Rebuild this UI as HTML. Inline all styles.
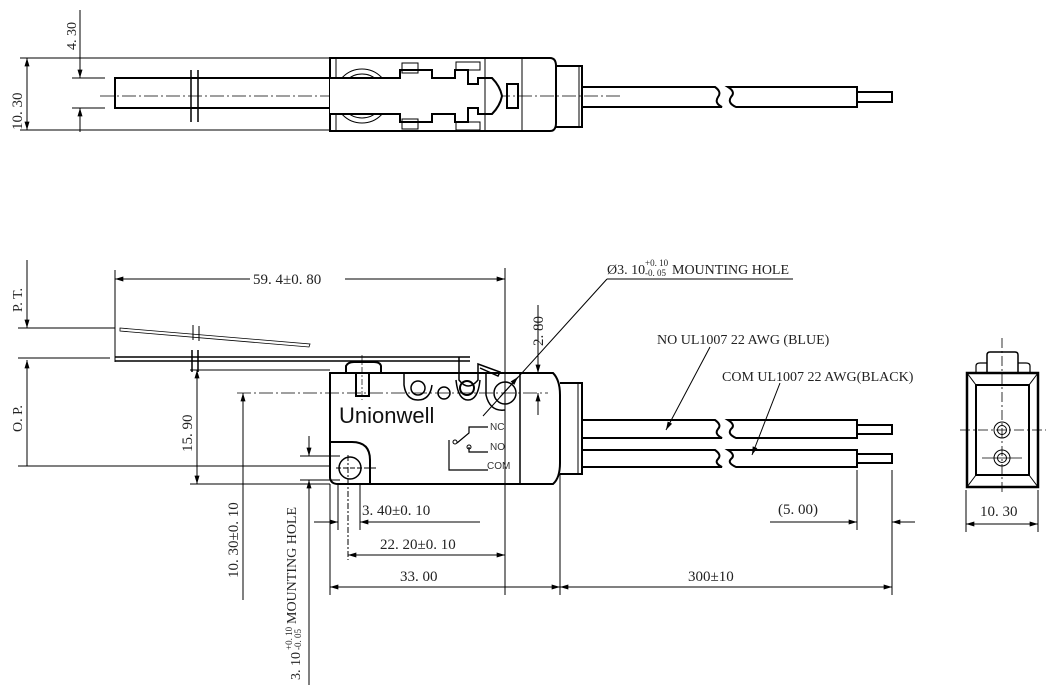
<!DOCTYPE html>
<html><head><meta charset="utf-8"><style>
html,body{margin:0;padding:0;background:#fff}
svg{display:block}
text{font-family:"Liberation Serif","Noto Serif CJK SC",serif;font-size:14px;fill:#222}
</style></head><body>
<svg width="1052" height="685" viewBox="0 0 1052 685" xmlns="http://www.w3.org/2000/svg">
<defs>
<marker id="a" viewBox="0 0 10 6" refX="10" refY="3" markerWidth="14" markerHeight="5" orient="auto-start-reverse" markerUnits="userSpaceOnUse"><path d="M0,0 L10,3 L0,6z" fill="#000"/></marker>
</defs>
<g stroke="#000" fill="none" stroke-width="1">
<line x1="20" y1="58" x2="330" y2="58"/><line x1="20" y1="130" x2="330" y2="130"/>
<line x1="27" y1="58" x2="27" y2="130" marker-start="url(#a)" marker-end="url(#a)"/>
<line x1="80" y1="10" x2="80" y2="78" marker-end="url(#a)"/>
<line x1="80" y1="108" x2="80" y2="132" marker-start="url(#a)"/>
<line x1="72" y1="78" x2="105" y2="78"/><line x1="72" y1="108" x2="105" y2="108"/>
<path d="M330,78 H115 V108 H330" stroke-width="2"/>
<line x1="191" y1="70" x2="191" y2="122" stroke-width="1.5"/><line x1="198" y1="70" x2="198" y2="122" stroke-width="1.5"/>
<line x1="100" y1="96" x2="620" y2="96" stroke-dasharray="14,3,2,3" stroke-width="0.8"/>
<path d="M330,58 H550 Q556,58 556,66 V123 Q556,131 550,131 H330 Z" stroke-width="2"/>
<line x1="336" y1="58" x2="336" y2="131"/>
<circle cx="362" cy="96" r="27"/><circle cx="362" cy="96" r="22"/>
<path d="M330,78 H400 V70 H432 V78 H455 V70 H468 V84 H478 V78 H492 Q500,86 502,96 Q500,106 492,114 H478 V108 H468 V122 H455 V114 H432 V122 H400 V114 H330" stroke-width="2" fill="#fff"/>
<rect x="402" y="63" width="16" height="10"/><rect x="402" y="119" width="16" height="10"/>
<rect x="456" y="62" width="24" height="8"/><rect x="456" y="122" width="24" height="8"/>
<line x1="485" y1="58" x2="485" y2="131"/><line x1="522" y1="58" x2="522" y2="131"/>
<rect x="507" y="84" width="11" height="24" stroke-width="2"/>
<path d="M556,66 H582 V127 H556" stroke-width="2"/><line x1="579" y1="66" x2="579" y2="127"/>
<path d="M582,87 H715 Q722,92 718,97 Q714,103 722,107 H582" stroke-width="2"/>
<path d="M857,87 H728 Q736,92 731,97 Q727,103 736,107 H857 Z" stroke-width="2"/>
<rect x="857" y="92" width="35" height="10" stroke-width="2"/>

<line x1="27" y1="260" x2="27" y2="328" marker-end="url(#a)"/>
<line x1="27" y1="360" x2="27" y2="466" marker-start="url(#a)"/>
<line x1="18" y1="328" x2="115" y2="328"/><line x1="18" y1="358" x2="110" y2="358"/>
<line x1="18" y1="466" x2="330" y2="466"/>
<line x1="115" y1="270" x2="115" y2="362"/><line x1="505" y1="268" x2="505" y2="595"/>
<line x1="115" y1="279" x2="250" y2="279" marker-start="url(#a)"/>
<line x1="345" y1="279" x2="505" y2="279" marker-end="url(#a)"/>
<path d="M115,357 H470 M115,361 H470" stroke-width="1.5"/>
<path d="M120,328 L310,344 L309,347 L120,331 Z" stroke-width="0.8"/>
<line x1="193" y1="325" x2="193" y2="340"/><line x1="199" y1="326" x2="199" y2="341"/>
<line x1="192" y1="350" x2="192" y2="372" stroke-width="1.5"/><line x1="198" y1="350" x2="198" y2="372" stroke-width="1.5"/>
<path d="M459,357 V380 Q468,392 478,380 V364 L500,372 L498,376 L480,368" stroke-width="1.5"/>
<path d="M346,373 V366 Q348,362 354,362 H374 Q380,362 381,366 V373" stroke-width="2"/>
<path d="M356,373 V396 H369 V373" stroke-width="2"/>
<line x1="362" y1="355" x2="362" y2="400" stroke-dasharray="6,2,2,2" stroke-width="0.7"/>
<path d="M330,373 H553 Q560,380 560,395 V463 Q560,478 553,484 H370 V460 Q370,442 352,442 H330 Z M330,442 V478 Q331,484 338,484 H370" stroke-width="2"/>
<line x1="520" y1="373" x2="520" y2="484" stroke-width="1.5"/>
<path d="M560,383 H582 V474 H560" stroke-width="2"/><line x1="578" y1="383" x2="578" y2="474"/>
<circle cx="350" cy="468" r="11" stroke-width="1.5"/>
<line x1="336" y1="468" x2="378" y2="468" stroke-dasharray="5,2"/>
<line x1="348" y1="455" x2="348" y2="560" stroke-dasharray="6,2,2,2"/>
<path d="M404,373 V385 Q406,400 418,400 Q430,400 432,385" stroke-width="1.5"/>
<circle cx="418" cy="388" r="7" stroke-width="1.5"/>
<circle cx="444" cy="393" r="6" stroke-width="1.5"/>
<path d="M456,380 Q458,400 468,400 Q478,400 480,380" stroke-width="1.5"/>
<circle cx="467" cy="388" r="7" stroke-width="2"/>
<path d="M486,373 V395 Q490,412 505,410" stroke-width="1.5"/>
<circle cx="505" cy="393" r="11" stroke-width="1.5"/>
<line x1="237" y1="393" x2="548" y2="393" stroke-dasharray="14,3,2,3" stroke-width="0.8"/>
<path d="M457,443 L469,433 L469,427 H488 M469,447 V452 H488 M449,440 V470 H488" stroke-width="1.2"/>
<circle cx="455" cy="442" r="2"/><circle cx="469" cy="447" r="2"/>
<line x1="190" y1="370" x2="330" y2="370"/><line x1="190" y1="484" x2="330" y2="484"/>
<line x1="197" y1="370" x2="197" y2="484" marker-start="url(#a)" marker-end="url(#a)"/>
<line x1="243" y1="393" x2="243" y2="600" marker-start="url(#a)"/>
<line x1="538" y1="305" x2="538" y2="373" marker-end="url(#a)"/>
<line x1="538" y1="393" x2="538" y2="415" marker-start="url(#a)"/>
<line x1="300" y1="456" x2="340" y2="456"/><line x1="300" y1="480" x2="340" y2="480"/>
<line x1="309" y1="436" x2="309" y2="456" marker-end="url(#a)"/>
<line x1="309" y1="480" x2="309" y2="685" marker-start="url(#a)"/>
<line x1="330" y1="484" x2="330" y2="595"/><line x1="338" y1="484" x2="338" y2="530"/>
<line x1="360" y1="484" x2="360" y2="530"/><line x1="560" y1="474" x2="560" y2="595"/>
<line x1="314" y1="522" x2="338" y2="522" marker-end="url(#a)"/>
<line x1="360" y1="522" x2="480" y2="522" marker-start="url(#a)"/>
<line x1="348" y1="555" x2="505" y2="555" marker-start="url(#a)" marker-end="url(#a)"/>
<line x1="330" y1="587" x2="560" y2="587" marker-start="url(#a)" marker-end="url(#a)"/>
<line x1="560" y1="587" x2="892" y2="587" marker-start="url(#a)" marker-end="url(#a)"/>
<path d="M582,420 H715 Q722,425 718,429 Q714,434 722,438 H582" stroke-width="2"/>
<path d="M857,420 H728 Q736,425 731,429 Q727,434 736,438 H857 Z" stroke-width="2"/>
<rect x="857" y="425" width="35" height="9" stroke-width="2"/>
<path d="M582,450 H715 Q722,455 718,459 Q714,463 722,467 H582" stroke-width="2"/>
<path d="M857,450 H728 Q736,455 731,459 Q727,463 736,467 H857 Z" stroke-width="2"/>
<rect x="857" y="454" width="35" height="9" stroke-width="2"/>
<line x1="857" y1="470" x2="857" y2="530"/><line x1="892" y1="470" x2="892" y2="595"/>
<line x1="770" y1="522" x2="857" y2="522" marker-end="url(#a)"/>
<line x1="892" y1="522" x2="915" y2="522" marker-start="url(#a)"/>
<line x1="607" y1="279" x2="793" y2="279"/>
<line x1="607" y1="279" x2="483" y2="416"/>
<line x1="500" y1="397" x2="518" y2="377" marker-end="url(#a)"/>
<line x1="710" y1="347" x2="666" y2="430" marker-end="url(#a)"/>
<line x1="780" y1="383" x2="752" y2="455" marker-end="url(#a)"/>

<path d="M987,373 V355 Q987,352 990,352 H1015 Q1018,352 1018,355 V373" stroke-width="1.5"/>
<path d="M976,373 V366 Q976,363 980,363 H987 M1018,363 H1026 Q1030,363 1030,366 V373" stroke-width="1.2"/>
<rect x="967" y="373" width="71" height="114" stroke-width="2.5"/>
<rect x="976" y="385" width="53" height="90" stroke-width="2"/>
<line x1="967" y1="373" x2="976" y2="385"/><line x1="1038" y1="373" x2="1029" y2="385"/>
<line x1="967" y1="487" x2="976" y2="475"/><line x1="1038" y1="487" x2="1029" y2="475"/>
<circle cx="1002" cy="430" r="8"/><circle cx="1002" cy="430" r="4.5"/>
<circle cx="1002" cy="458" r="8"/><circle cx="1002" cy="458" r="4.5"/>
<line x1="1002" y1="338" x2="1002" y2="492" stroke-dasharray="10,3,2,3" stroke-width="0.8"/>
<line x1="960" y1="430" x2="1046" y2="430" stroke-dasharray="10,3,2,3" stroke-width="0.8"/>
<line x1="982" y1="458" x2="1022" y2="458" stroke-width="0.8"/>
<line x1="966" y1="490" x2="966" y2="532"/><line x1="1038" y1="490" x2="1038" y2="532"/>
<line x1="966" y1="524" x2="1038" y2="524" marker-start="url(#a)" marker-end="url(#a)"/>
</g>

<g>
<text transform="translate(76,50) rotate(-90)">4. 30</text>
<text transform="translate(22,130) rotate(-90)" style="font-size:15px">10. 30</text>
<text transform="translate(22,312) rotate(-90)">P. T.</text>
<text transform="translate(22,432) rotate(-90)">O. P.</text>
<text x="253" y="284" style="font-size:15px">59. 4±0. 80</text>
<text transform="translate(192,452) rotate(-90)" style="font-size:15px">15. 90</text>
<text transform="translate(238,578) rotate(-90)" style="font-size:15px">10. 30±0. 10</text>
<text transform="translate(543,346) rotate(-90)" style="font-size:15px">2. 80</text>
<g transform="translate(300,680) rotate(-90)">
<text x="0" y="0">3. 10</text>
<text x="30" y="-8" style="font-size:9px">+0. 10</text>
<text x="30" y="1" style="font-size:9px">-0. 05</text>
<text x="56" y="-4">MOUNTING HOLE</text>
</g>
<text x="339" y="423" style="font-family:'Liberation Sans',sans-serif;font-size:22px;fill:#111">Unionwell</text>
<text x="490" y="430" style="font-family:'Liberation Sans',sans-serif;font-size:10px;fill:#333">NC</text>
<text x="490" y="450" style="font-family:'Liberation Sans',sans-serif;font-size:10px;fill:#333">NO</text>
<text x="487" y="469" style="font-family:'Liberation Sans',sans-serif;font-size:10px;fill:#333">COM</text>
<text x="607" y="274">Ø3. 10</text>
<text x="645" y="266" style="font-size:9px">+0. 10</text>
<text x="645" y="276" style="font-size:9px">-0. 05</text>
<text x="672" y="274">MOUNTING HOLE</text>
<text x="657" y="344">NO UL1007 22 AWG (BLUE)</text>
<text x="722" y="381">COM UL1007 22 AWG(BLACK)</text>
<text x="362" y="515" style="font-size:15px">3. 40±0. 10</text>
<text x="380" y="549" style="font-size:15px">22. 20±0. 10</text>
<text x="400" y="581" style="font-size:15px">33. 00</text>
<text x="688" y="581" style="font-size:15px">300±10</text>
<text x="778" y="514" style="font-size:15px">(5. 00)</text>
<text x="980" y="516" style="font-size:15px">10. 30</text>
</g>
</svg>
</body></html>
